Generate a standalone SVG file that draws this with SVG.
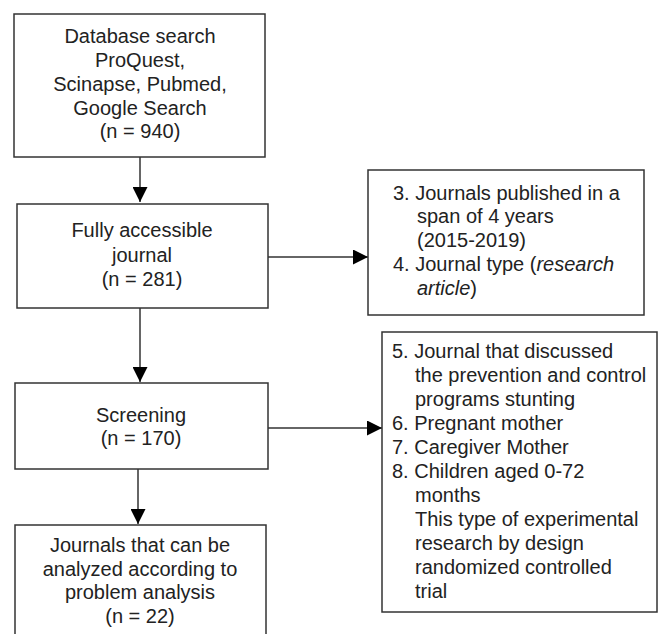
<svg xmlns="http://www.w3.org/2000/svg" width="662" height="634" viewBox="0 0 662 634">
<style>
.box{fill:#fff;stroke:#333;stroke-width:1.5}
.t{font-family:"Liberation Sans",Arial,sans-serif;font-size:20px;fill:#222}
.c{text-anchor:middle}
.ln{stroke:#333;stroke-width:1.5;fill:none}
</style>
<defs>
<marker id="ahb" markerWidth="15" markerHeight="15" refX="15" refY="7.5" orient="auto" markerUnits="userSpaceOnUse" viewBox="0 0 15 15">
<path d="M0,0 L15,7.5 L0,15 z" fill="#000"/>
</marker>
</defs>
<rect width="662" height="634" fill="#fff"/>
<g id="connectors">
<line class="ln" x1="140" y1="157" x2="140" y2="202" marker-end="url(#ahb)"/>
<line class="ln" x1="268" y1="257" x2="368" y2="257" marker-end="url(#ahb)"/>
<line class="ln" x1="140" y1="308" x2="140" y2="382" marker-end="url(#ahb)"/>
<line class="ln" x1="268" y1="428" x2="382" y2="428" marker-end="url(#ahb)"/>
<line class="ln" x1="138" y1="469" x2="138" y2="524" marker-end="url(#ahb)"/>
</g>
<g id="n1">
<rect class="box" x="14" y="14" width="251" height="143"/>
<text class="t c" x="140" y="43">Database search</text>
<text class="t c" x="140" y="67">ProQuest,</text>
<text class="t c" x="140" y="91">Scinapse, Pubmed,</text>
<text class="t c" x="140" y="115">Google Search</text>
<text class="t c" x="140" y="138">(n = 940)</text>
</g>
<g id="n2">
<rect class="box" x="17" y="204" width="251" height="104"/>
<text class="t c" x="142" y="237">Fully accessible</text>
<text class="t c" x="142" y="262">journal</text>
<text class="t c" x="142" y="286">(n = 281)</text>
</g>
<g id="n3">
<rect class="box" x="15" y="383" width="253" height="86"/>
<text class="t c" x="141" y="422">Screening</text>
<text class="t c" x="141" y="445">(n = 170)</text>
</g>
<g id="n4">
<rect class="box" x="15" y="525" width="251" height="120"/>
<text class="t c" x="140" y="552">Journals that can be</text>
<text class="t c" x="140" y="576">analyzed according to</text>
<text class="t c" x="140" y="599">problem analysis</text>
<text class="t c" x="140" y="623">(n = 22)</text>
</g>
<g id="n5">
<rect class="box" x="368" y="170" width="276" height="145"/>
<text class="t" x="393" y="200">3. Journals published in a</text>
<text class="t" x="417" y="223">span of 4 years</text>
<text class="t" x="417" y="247">(2015-2019)</text>
<text class="t" x="393" y="271">4. Journal type (<tspan font-style="italic">research</tspan></text>
<text class="t" x="417" y="295"><tspan font-style="italic">article</tspan>)</text>
</g>
<g id="n6">
<rect class="box" x="382" y="332" width="275" height="280"/>
<text class="t" x="392" y="358">5. Journal that discussed</text>
<text class="t" x="415" y="382">the prevention and control</text>
<text class="t" x="415" y="406">programs stunting</text>
<text class="t" x="392" y="430">6. Pregnant mother</text>
<text class="t" x="392" y="454">7. Caregiver Mother</text>
<text class="t" x="392" y="478">8. Children aged 0-72</text>
<text class="t" x="415" y="502">months</text>
<text class="t" x="415" y="526">This type of experimental</text>
<text class="t" x="415" y="550">research by design</text>
<text class="t" x="415" y="574">randomized controlled</text>
<text class="t" x="415" y="598">trial</text>
</g>
</svg>
